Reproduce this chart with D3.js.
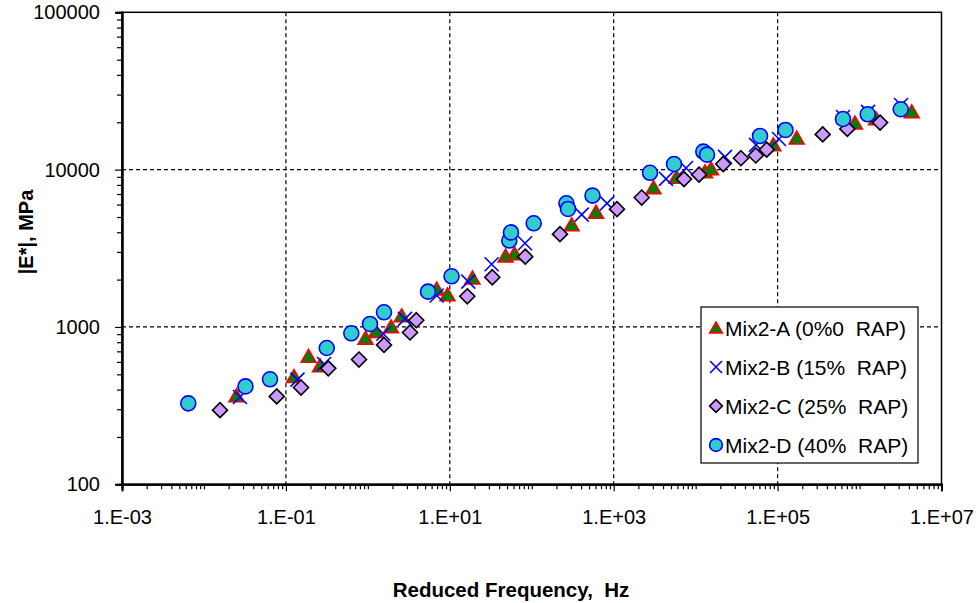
<!DOCTYPE html>
<html>
<head>
<meta charset="utf-8">
<script src="https://cdnjs.cloudflare.com/ajax/libs/d3/7.8.5/d3.min.js"></script>
<style>
  body { margin: 0; background: #fff; }
  text { font-family: "Liberation Sans", Arial, sans-serif; }
</style>
</head>
<body>
<div id="chart"></div>
<script>
(function(d3) {
    'use strict';

    // reduced frequency (Hz) and |E*| (MPa) per mix
    var mixA_freq = [0.0249, 0.1256, 0.189, 0.261, 0.936, 1.26, 1.92, 2.59, 6.92, 9.38, 18.9, 47.9, 61.7,
                     307, 608, 3060, 5840, 13000, 15400, 88700, 171000, 879000, 1590000, 4330000];
    var mixA_mod  = [364, 483, 649, 565, 847, 933, 1000, 1175, 1738, 1596, 2042, 2815, 2912,
                     4447, 5355, 7656, 8915, 9660, 10090, 14350, 15850, 19720, 20980, 23280];

    var mixB_freq = [0.0275, 0.1385, 0.292, 1.545, 2.84, 6.92, 16.8, 32.4, 82.8, 407, 828, 4350, 7620,
                     22800, 54600, 104000, 628000, 1270000, 3210000];
    var mixB_mod  = [359, 463, 582, 906, 1125, 1585, 1941, 2503, 3405, 5176, 6108, 8730, 10250,
                     12050, 14360, 15670, 21620, 23280, 25760];

    var mixC_freq = [0.0157, 0.0773, 0.153, 0.329, 0.78, 1.574, 3.27, 3.9, 16.35, 33.0, 83.4, 221, 1097,
                     2198, 7210, 11000, 21700, 35700, 54200, 73600, 355000, 710000, 1780000];
    var mixC_mod  = [296, 362, 412, 546, 621, 769, 923, 1104, 1567, 2070, 2799, 3890, 5610,
                     6650, 8710, 9290, 10860, 11815, 12300, 13400, 16750, 18150, 19910];

    var mixD_freq = [0.00644, 0.0321, 0.064, 0.315, 0.628, 1.062, 1.574, 5.42, 10.5, 53.2, 55.8, 105.7,
                     265, 277, 551, 2773, 5445, 12400, 13770, 61000, 124700, 628000, 1258000, 3180000];
    var mixD_mod  = [327, 419, 465, 735, 912, 1045, 1239, 1677, 2099, 3541, 3990, 4560,
                     6110, 5625, 6840, 9550, 10860, 13020, 12450, 16370, 17870, 20980, 22480, 24200];

    var seriesNames = ['Mix2-A (0%0  RAP)', 'Mix2-B (15%  RAP)', 'Mix2-C (25%  RAP)', 'Mix2-D (40%  RAP)'];
    var seriesKeys = ['A', 'B', 'C', 'D'];

    var xTickValues = [1e-3, 1e-1, 1e1, 1e3, 1e5, 1e7];
    var xTickLabels = ['1.E-03', '1.E-01', '1.E+01', '1.E+03', '1.E+05', '1.E+07'];
    var yTickValues = [100, 1000, 10000, 100000];
    var yTickLabels = ['100', '1000', '10000', '100000'];

    var width = 979,
        height = 603;

    var margin = {left: 122, right: 37.5, top: 12.3, bottom: 118.7};
    var plotW = width - margin.left - margin.right,
        plotH = height - margin.top - margin.bottom;

    var svg = d3.select('#chart').append('svg')
        .attr('width', width)
        .attr('height', height);

    var x = d3.scaleLog().domain([1e-3, 1e7]).range([0, plotW]);
    var y = d3.scaleLog().domain([100, 100000]).range([plotH, 0]);

    var g = svg.append('g')
        .attr('transform', 'translate(' + margin.left + ',' + margin.top + ')');

    // minor tick positions (2..9 of every decade, plus odd decades on x)
    function minors(lo, hi, withDecade) {
        var out = [];
        for (var e = lo; e < hi; e++) {
            for (var k = 1; k <= 9; k++) {
                if (k === 1 && !withDecade(e)) continue;
                out.push(k * Math.pow(10, e));
            }
        }
        return out;
    }
    var xMinor = minors(-3, 7, function(e) { return Math.abs(e) % 2 === 0; });
    var yMinor = minors(2, 5, function() { return false; });

    // gridlines
    g.append('g').selectAll('line')
        .data(xTickValues.slice(1, -1))
        .enter().append('line')
        .attr('x1', function(d) { return x(d); })
        .attr('x2', function(d) { return x(d); })
        .attr('y1', 0).attr('y2', plotH)
        .attr('stroke', '#000').attr('stroke-width', 1.2)
        .attr('stroke-dasharray', '4,3');

    g.append('g').selectAll('line')
        .data(yTickValues.slice(1, -1))
        .enter().append('line')
        .attr('x1', 0).attr('x2', plotW)
        .attr('y1', function(d) { return y(d); })
        .attr('y2', function(d) { return y(d); })
        .attr('stroke', '#000').attr('stroke-width', 1.2)
        .attr('stroke-dasharray', '4,3');

    // plot border
    g.append('rect')
        .attr('width', plotW).attr('height', plotH)
        .attr('fill', 'none').attr('stroke', '#000').attr('stroke-width', 1.5);

    // axes
    var xAxisMinor = g.append('g')
        .attr('transform', 'translate(0,' + plotH + ')')
        .call(d3.axisBottom(x).tickValues(xMinor).tickSize(5).tickFormat(''));
    var xAxis = g.append('g')
        .attr('transform', 'translate(0,' + plotH + ')')
        .call(d3.axisBottom(x).tickValues(xTickValues).tickSize(7).tickPadding(19)
            .tickFormat(function(d, i) { return xTickLabels[i]; }));

    var yAxisMinor = g.append('g')
        .call(d3.axisLeft(y).tickValues(yMinor).tickSize(5).tickFormat(''));
    var yAxis = g.append('g')
        .call(d3.axisLeft(y).tickValues(yTickValues).tickSize(7).tickPadding(15)
            .tickFormat(function(d, i) { return yTickLabels[i]; }));

    [xAxisMinor, xAxis, yAxisMinor, yAxis].forEach(function(a) {
        a.select('.domain').attr('stroke', '#000').attr('stroke-width', 2);
        a.selectAll('.tick line').attr('stroke', '#000').attr('stroke-width', 1.2);
        a.selectAll('text').attr('font-size', 20).attr('fill', '#000')
            .style('font-family', '"Liberation Sans", Arial, sans-serif');
    });

    // axis titles
    svg.append('text')
        .attr('x', 511).attr('y', 597)
        .attr('text-anchor', 'middle')
        .attr('font-size', 20.5).attr('font-weight', 'bold')
        .style('white-space', 'pre')
        .text('Reduced Frequency,  Hz');

    svg.append('text')
        .attr('transform', 'translate(33,232) rotate(-90)')
        .attr('text-anchor', 'middle')
        .attr('font-size', 20).attr('font-weight', 'bold')
        .text('|E*|, MPa');

    // marker drawing
    var triangle = d3.symbol().type(d3.symbolTriangle);
    var diamondPath = function(r) {
        return 'M0,' + (-r) + 'L' + r + ',0L0,' + r + 'L' + (-r) + ',0Z';
    };

    function drawMarker(sel, key, s) {
        if (key === 'A') {
            sel.append('path')
                .attr('d', triangle.size(95 * s * s)())
                .attr('transform', 'translate(0,' + (1.5 * s) + ')')
                .attr('fill', '#008000').attr('stroke', '#ff0000').attr('stroke-width', 1.6);
        } else if (key === 'B') {
            var h = 7 * s;
            sel.append('path')
                .attr('d', 'M' + (-h) + ',' + (-h) + 'L' + h + ',' + h + 'M' + (-h) + ',' + h + 'L' + h + ',' + (-h))
                .attr('fill', 'none').attr('stroke', '#0000ff').attr('stroke-width', 1.6);
        } else if (key === 'C') {
            sel.append('path')
                .attr('d', diamondPath(7.5 * s))
                .attr('fill', '#cc99ff').attr('stroke', '#000').attr('stroke-width', 1.6);
        } else {
            sel.append('circle')
                .attr('r', 7.5 * s)
                .attr('fill', '#33cccc').attr('stroke', '#0000ff').attr('stroke-width', 1.6);
        }
    }

    var seriesData = [
        d3.zip(mixA_freq, mixA_mod),
        d3.zip(mixB_freq, mixB_mod),
        d3.zip(mixC_freq, mixC_mod),
        d3.zip(mixD_freq, mixD_mod)
    ];

    seriesData.forEach(function(pts, si) {
        g.append('g').selectAll('g')
            .data(pts)
            .enter().append('g')
            .attr('transform', function(d) {
                return 'translate(' + x(d[0]) + ',' + y(d[1]) + ')';
            })
            .each(function() { drawMarker(d3.select(this), seriesKeys[si], 1); });
    });

    // legend
    var legend = svg.append('g').attr('transform', 'translate(701,307)');
    legend.append('rect')
        .attr('width', 217).attr('height', 156)
        .attr('fill', '#fff').attr('stroke', '#000').attr('stroke-width', 1.2);

    var item = legend.selectAll('.legend')
        .data(seriesNames)
        .enter().append('g')
        .attr('class', 'legend')
        .attr('transform', function(d, i) { return 'translate(0,' + (21 + i * 39) + ')'; });

    item.append('g')
        .attr('transform', 'translate(15,0)')
        .each(function(d, i) { drawMarker(d3.select(this), seriesKeys[i], 0.85); });

    item.append('text')
        .attr('x', 24).attr('y', 7.5)
        .attr('font-size', 21)
        .style('white-space', 'pre')
        .text(function(d) { return d; });

})(window.d3);
</script>
</body>
</html>
